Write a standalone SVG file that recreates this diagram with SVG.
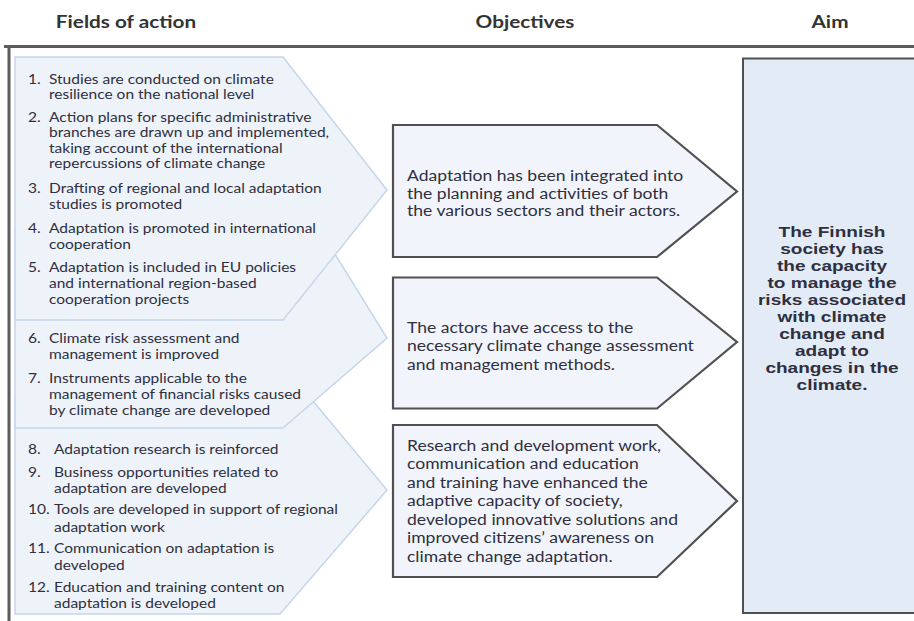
<svg xmlns="http://www.w3.org/2000/svg" width="914" height="621" viewBox="0 0 914 621">
<style>
.hdr{font-family:Lato,"Liberation Sans",sans-serif;font-weight:bold;font-size:17px;fill:#333333;text-anchor:middle}
.chev{fill:#eef3fa;stroke:#c6d6ea;stroke-width:1.5}
.li{font-family:Lato,"Liberation Sans",sans-serif;font-size:13.5px;fill:#2f2f40}
.obj{fill:#f1f5fb;stroke:#505050;stroke-width:2.2}
.ot{font-family:Lato,"Liberation Sans",sans-serif;font-size:14.5px;fill:#2f2f40}
.aim{fill:#e3ebf6;stroke:#505050;stroke-width:2}
.at{font-family:"Liberation Sans",Arial,sans-serif;font-weight:bold;font-size:15px;fill:#2f2f40;text-anchor:middle}
</style>
<rect width="914" height="621" fill="#ffffff"/>
<g id="headers">
<text class="hdr" transform="translate(126,28) scale(1.22,1)">Fields of action</text>
<text class="hdr" transform="translate(525,28) scale(1.22,1)">Objectives</text>
<text class="hdr" transform="translate(830,28) scale(1.22,1)">Aim</text>
</g>
<path id="frame" d="M4 46.5 H914 M9 46.5 V621" fill="none" stroke="#5c5c5c" stroke-width="3"/>
<g id="field3">
<polygon class="chev" points="15,395 308,395 387,490 280,614 15,614"/>
<g transform="translate(28,0) scale(1.15,1)">
<text class="li" y="454.5">8.</text>
<text class="li" y="477">9.</text>
<text class="li" y="514.5">10.</text>
<text class="li" y="553">11.</text>
<text class="li" y="592">12.</text>
</g>
<g transform="translate(54,0) scale(1.15,1)">
<text class="li" y="454.5">Adaptation research is reinforced</text>
<text class="li" y="477">Business opportunities related to</text>
<text class="li" y="493.5">adaptation are developed</text>
<text class="li" y="514.5">Tools are developed in support of regional</text>
<text class="li" y="532">adaptation work</text>
<text class="li" y="553">Communication on adaptation is</text>
<text class="li" y="570">developed</text>
<text class="li" y="592">Education and training content on</text>
<text class="li" y="608">adaptation is developed</text>
</g>
</g>
<g id="field2">
<polygon class="chev" points="15,230 320,230 387,338 283,428 15,428"/>
<g transform="translate(28,0) scale(1.15,1)">
<text class="li" y="343">6.</text>
<text class="li" y="383">7.</text>
</g>
<g transform="translate(49,0) scale(1.15,1)">
<text class="li" y="343">Climate risk assessment and</text>
<text class="li" y="359.5">management is improved</text>
<text class="li" y="383">Instruments applicable to the</text>
<text class="li" y="399">management of financial risks caused</text>
<text class="li" y="415">by climate change are developed</text>
</g>
</g>
<g id="field1">
<polygon class="chev" points="15,57 283,57 387,190 283,320 15,320"/>
<g transform="translate(28,0) scale(1.15,1)">
<text class="li" y="84">1.</text>
<text class="li" y="122">2.</text>
<text class="li" y="193">3.</text>
<text class="li" y="233.5">4.</text>
<text class="li" y="272">5.</text>
</g>
<g transform="translate(49,0) scale(1.15,1)">
<text class="li" y="84">Studies are conducted on climate</text>
<text class="li" y="99">resilience on the national level</text>
<text class="li" y="122">Action plans for specific administrative</text>
<text class="li" y="137.5">branches are drawn up and implemented,</text>
<text class="li" y="153">taking account of the international</text>
<text class="li" y="168.5">repercussions of climate change</text>
<text class="li" y="193">Drafting of regional and local adaptation</text>
<text class="li" y="209">studies is promoted</text>
<text class="li" y="233.5">Adaptation is promoted in international</text>
<text class="li" y="249">cooperation</text>
<text class="li" y="272">Adaptation is included in EU policies</text>
<text class="li" y="288">and international region-based</text>
<text class="li" y="304">cooperation projects</text>
</g>
</g>
<g id="objective1">
<polygon class="obj" points="393,125 657,125 737,191.5 657,257 393,257"/>
<g transform="translate(407,0) scale(1.21,1)">
<text class="ot" y="181">Adaptation has been integrated into</text>
<text class="ot" y="199">the planning and activities of both</text>
<text class="ot" y="216">the various sectors and their actors.</text>
</g>
</g>
<g id="objective2">
<polygon class="obj" points="393,277.5 657,277.5 737,342 657,408.5 393,408.5"/>
<g transform="translate(407,0) scale(1.21,1)">
<text class="ot" y="333">The actors have access to the</text>
<text class="ot" y="351.5">necessary climate change assessment</text>
<text class="ot" y="370">and management methods.</text>
</g>
</g>
<g id="objective3">
<polygon class="obj" points="393,425 657,425 737,501 657,577 393,577"/>
<g transform="translate(407,0) scale(1.21,1)">
<text class="ot" y="451">Research and development work,</text>
<text class="ot" y="469.5">communication and education</text>
<text class="ot" y="488">and training have enhanced the</text>
<text class="ot" y="506.5">adaptive capacity of society,</text>
<text class="ot" y="525">developed innovative solutions and</text>
<text class="ot" y="543.5">improved citizens’ awareness on</text>
<text class="ot" y="562">climate change adaptation.</text>
</g>
</g>
<g id="aim">
<rect class="aim" x="743" y="58.5" width="175" height="554.5"/>
<g transform="translate(832,0) scale(1.27,1)">
<text class="at" y="237">The Finnish</text>
<text class="at" y="254">society has</text>
<text class="at" y="271">the capacity</text>
<text class="at" y="288">to manage the</text>
<text class="at" y="305">risks associated</text>
<text class="at" y="322">with climate</text>
<text class="at" y="339">change and</text>
<text class="at" y="356">adapt to</text>
<text class="at" y="373">changes in the</text>
<text class="at" y="390">climate.</text>
</g>
</g>
<g id="connectors"/>
</svg>
